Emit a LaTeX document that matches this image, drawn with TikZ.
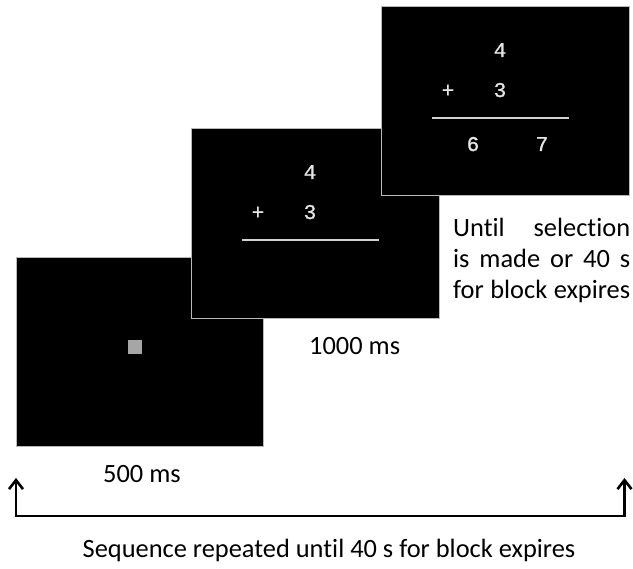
\documentclass[tikz,border=0pt]{standalone}
\usepackage{fontspec}
\setmainfont{Carlito}[Ligatures={NoCommon}]
\newfontfamily\monof{Liberation Mono}[FakeBold=1.2]
\usetikzlibrary{arrows.meta}
\begin{document}
\begin{tikzpicture}[x=1pt,y=-1pt,
  screen/.style={fill=black,draw=gray!55,line width=0.8pt},
  digit/.style={inner sep=0pt,anchor=base,text=white!90!black,font=\monof\fontsize{21}{24}\selectfont},
  label/.style={inner sep=0pt,font=\fontsize{26.4}{31}\selectfont},
  rule/.style={draw=white!82!black,line width=1.4pt},
  loop/.style={line width=2.6pt,{Straight Barb[length=9pt,width=14pt]}-{Straight Barb[length=9pt,width=14pt]}}]
\useasboundingbox (0,0) rectangle (633,569);
% screen 1
\path[screen] (16,257) rectangle (263,446);
\node[fill=white!65!black,minimum size=14pt,inner sep=0pt] (fix) at (135,347) {};
% screen 2
\path[screen] (191,128) rectangle (439,318);
\node[digit] (a2) at (310,179) {4};
\node[digit] (p2) at (258,219) {+};
\node[digit] (b2) at (310,219) {3};
\coordinate (l2a) at (242,240);
\coordinate (l2b) at (379,240);
\draw[rule] (l2a) -- (l2b);
% screen 3
\path[screen] (381,6) rectangle (629,195);
\node[digit] (a3) at (500,57) {4};
\node[digit] (p3) at (448,97) {+};
\node[digit] (b3) at (500,97) {3};
\coordinate (l3a) at (432,118);
\coordinate (l3b) at (569,118);
\draw[rule] (l3a) -- (l3b);
\node[digit] (c3) at (473,151) {6};
\node[digit] (d3) at (542,151) {7};
% labels
\node[label,anchor=base west] (t500) at (103,483) {500 ms};
\node[label,anchor=base west] (t1000) at (309,355) {1000 ms};
\node[label,anchor=base west] (u1) at (453,237) {\makebox[177pt][s]{Until selection}};
\node[label,anchor=base west] (u2) at (453,268) {\makebox[177pt][s]{is made or 40 s}};
\node[label,anchor=base west] (u3) at (453,299) {\makebox[177pt][s]{for block expires}};
\node[label,anchor=base] (seq) at (329,558) {Sequence repeated until 40 s for block expires};
% loop arrow
\coordinate (lt) at (16,478);
\coordinate (lb) at (16,516);
\coordinate (rb) at (624.5,516);
\coordinate (rt) at (624.5,478);
\draw[loop] (lt) -- (lb) -- (rb) -- (rt);
\end{tikzpicture}
\end{document}
